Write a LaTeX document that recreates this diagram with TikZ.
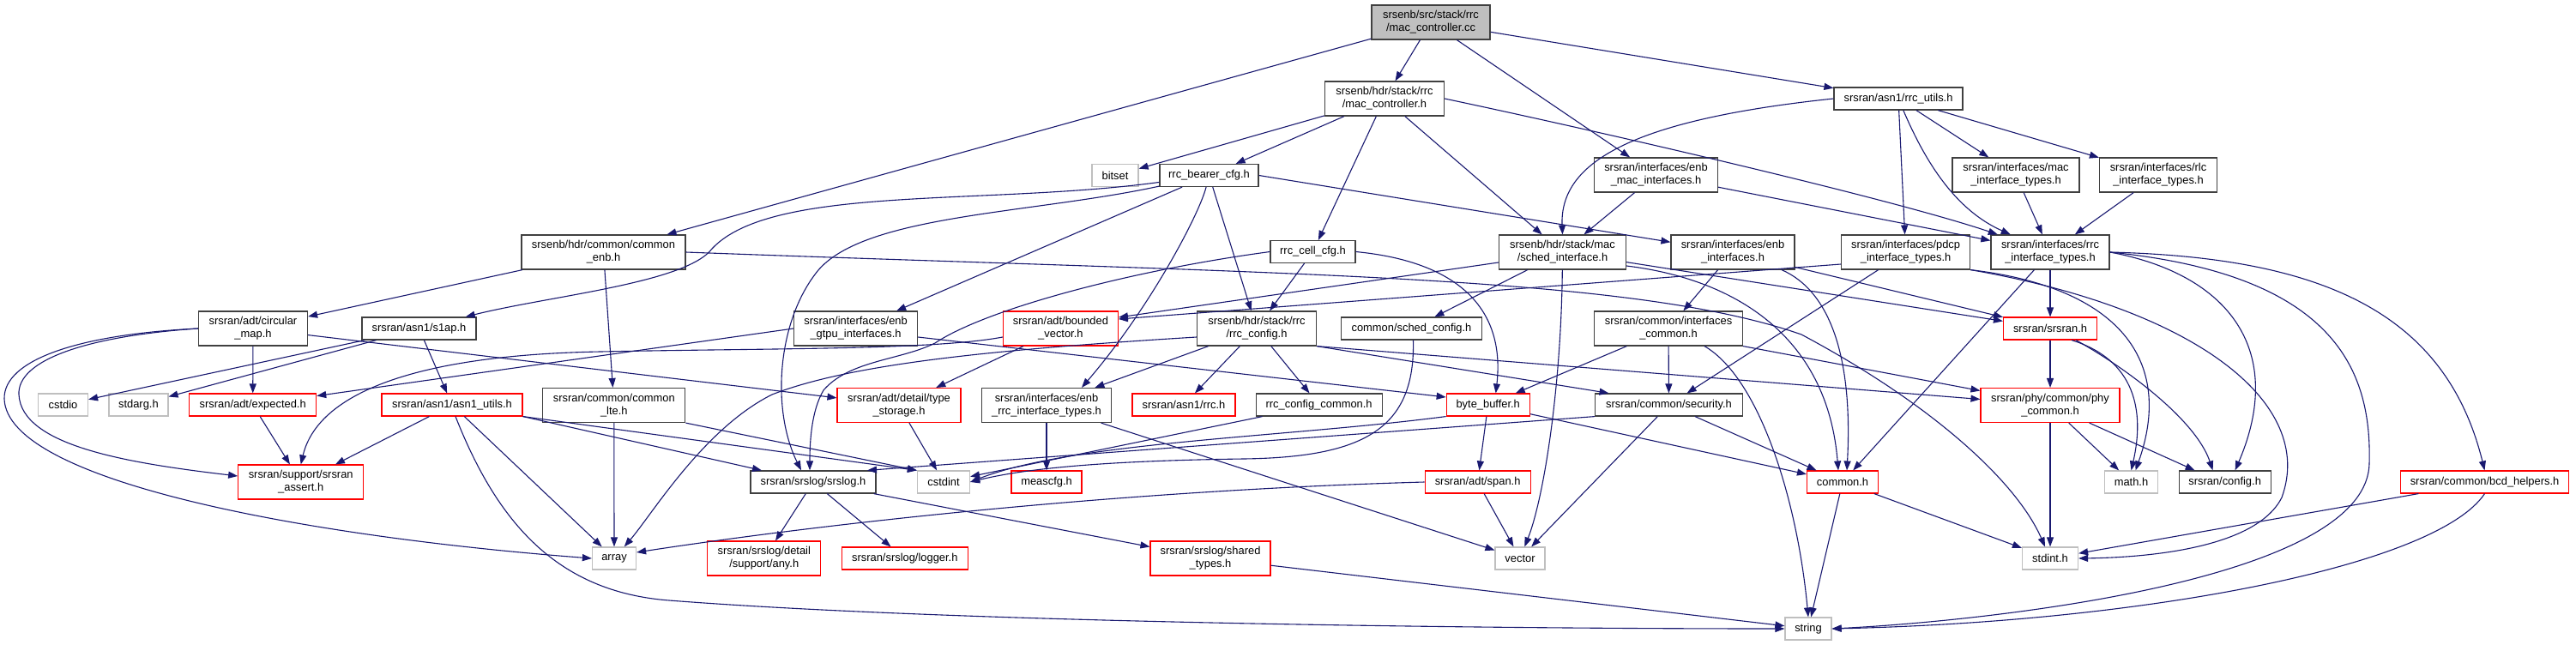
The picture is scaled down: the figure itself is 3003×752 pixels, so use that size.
\documentclass[tikz,border=0pt]{standalone}
\usepackage{fontspec}
\setmainfont{Liberation Sans}
\usetikzlibrary{arrows.meta}
\definecolor{EdgeBlue}{RGB}{25,25,112}
\definecolor{SysGray}{RGB}{191,191,191}
\definecolor{FileEdge}{RGB}{64,64,64}
\definecolor{TruncRed}{RGB}{255,0,0}

\begin{document}
\begin{tikzpicture}[x=1pt, y=-1pt,
  every node/.style={font=\fontsize{12.9pt}{15pt}\selectfont, align=center, inner sep=0pt},
  filenode/.style={draw=FileEdge, line width=1.2pt, fill=white},
  trunode/.style={draw=TruncRed, line width=1.1pt, fill=white},
  sysnode/.style={draw=SysGray, line width=1.2pt, fill=white},
  mainnode/.style={draw=FileEdge, line width=1.2pt, fill=SysGray},
  one/.style={minimum height=26pt},
  two/.style={minimum height=40pt},
  dep/.style={-{Triangle[length=11pt,width=8pt]}, EdgeBlue, line width=1.1pt}]
  \useasboundingbox[fill=white] (0,0) rectangle (3003,752);

  \node[mainnode, two, minimum width=138pt] (cc) at (1668,26) {srsenb/src/stack/rrc\\/mac\_controller.cc};
  \node[filenode, two, minimum width=139pt] (macctrl) at (1614,115) {srsenb/hdr/stack/rrc\\/mac\_controller.h};
  \node[filenode, one, minimum width=150pt] (rrcutils) at (2213,115) {srsran/asn1/rrc\_utils.h};
  \node[sysnode, one, minimum width=54pt] (bitset) at (1300,204.5) {bitset};
  \node[filenode, one, minimum width=115pt] (bearer) at (1409.5,204.5) {rrc\_bearer\_cfg.h};
  \node[filenode, two, minimum width=144pt] (enbmac) at (1930.5,204) {srsran/interfaces/enb\\\_mac\_interfaces.h};
  \node[filenode, two, minimum width=148pt] (macif) at (2350,204) {srsran/interfaces/mac\\\_interface\_types.h};
  \node[filenode, two, minimum width=137pt] (rlcif) at (2516,204) {srsran/interfaces/rlc\\\_interface\_types.h};
  \node[filenode, two, minimum width=191pt] (commonenb) at (703.5,294) {srsenb/hdr/common/common\\\_enb.h};
  \node[filenode, one, minimum width=99pt] (cellcfg) at (1530.5,293.5) {rrc\_cell\_cfg.h};
  \node[filenode, two, minimum width=148pt] (sched) at (1821.5,294) {srsenb/hdr/stack/mac\\/sched\_interface.h};
  \node[filenode, two, minimum width=144pt] (enbif) at (2020,294) {srsran/interfaces/enb\\\_interfaces.h};
  \node[filenode, two, minimum width=150pt] (pdcpif) at (2221.6,294) {srsran/interfaces/pdcp\\\_interface\_types.h};
  \node[filenode, two, minimum width=138pt] (rrcif) at (2390,294) {srsran/interfaces/rrc\\\_interface\_types.h};
  \node[filenode, two, minimum width=127pt] (circmap) at (295,383) {srsran/adt/circular\\\_map.h};
  \node[filenode, one, minimum width=133pt] (s1ap) at (488.5,383) {srsran/asn1/s1ap.h};
  \node[filenode, two, minimum width=144pt] (gtpu) at (997.6,383) {srsran/interfaces/enb\\\_gtpu\_interfaces.h};
  \node[trunode, two, minimum width=134pt] (bvec) at (1236.4,383) {srsran/adt/bounded\\\_vector.h};
  \node[filenode, two, minimum width=139pt] (rrccfg) at (1465,383) {srsenb/hdr/stack/rrc\\/rrc\_config.h};
  \node[filenode, one, minimum width=164pt] (schedcfg) at (1645.5,383) {common/sched\_config.h};
  \node[filenode, two, minimum width=173pt] (ifcommon) at (1945,383) {srsran/common/interfaces\\\_common.h};
  \node[trunode, one, minimum width=109pt] (srsranh) at (2390,383) {srsran/srsran.h};
  \node[sysnode, one, minimum width=58pt] (cstdio) at (73.5,472) {cstdio};
  \node[sysnode, one, minimum width=69pt] (stdarg) at (161.4,472) {stdarg.h};
  \node[trunode, one, minimum width=148pt] (expected) at (294.7,472) {srsran/adt/expected.h};
  \node[trunode, one, minimum width=164pt] (asn1utils) at (527,472) {srsran/asn1/asn1\_utils.h};
  \node[filenode, two, minimum width=166pt] (commonlte) at (715.8,472.5) {srsran/common/common\\\_lte.h};
  \node[trunode, two, minimum width=144pt] (typestor) at (1048,472.5) {srsran/adt/detail/type\\\_storage.h};
  \node[filenode, two, minimum width=151pt] (enbrrc) at (1220,472.5) {srsran/interfaces/enb\\\_rrc\_interface\_types.h};
  \node[trunode, one, minimum width=120pt] (asnrrc) at (1380,472) {srsran/asn1/rrc.h};
  \node[filenode, one, minimum width=147pt] (cfgcommon) at (1537.6,472) {rrc\_config\_common.h};
  \node[trunode, one, minimum width=97pt] (bytebuf) at (1734.7,472) {byte\_buffer.h};
  \node[filenode, one, minimum width=172pt] (security) at (1945.5,472) {srsran/common/security.h};
  \node[trunode, two, minimum width=162pt] (phycommon) at (2390,472.5) {srsran/phy/common/phy\\\_common.h};
  \node[trunode, two, minimum width=146pt] (assert) at (350.7,562) {srsran/support/srsran\\\_assert.h};
  \node[filenode, one, minimum width=146pt] (srslog) at (948,562) {srsran/srslog/srslog.h};
  \node[sysnode, one, minimum width=61pt] (cstdint) at (1100,562) {cstdint};
  \node[trunode, one, minimum width=82pt] (meascfg) at (1220,562) {meascfg.h};
  \node[trunode, one, minimum width=123pt] (span) at (1722.6,562) {srsran/adt/span.h};
  \node[trunode, one, minimum width=83pt] (commonh) at (2148,562) {common.h};
  \node[sysnode, one, minimum width=62pt] (mathh) at (2484.5,562) {math.h};
  \node[filenode, one, minimum width=107pt] (config) at (2593.6,562) {srsran/config.h};
  \node[trunode, one, minimum width=196pt] (bcd) at (2896.5,562) {srsran/common/bcd\_helpers.h};
  \node[sysnode, one, minimum width=51pt] (array) at (716,651) {array};
  \node[trunode, two, minimum width=132pt] (anyh) at (890.8,651) {srsran/srslog/detail\\/support/any.h};
  \node[trunode, one, minimum width=147pt] (logger) at (1054.8,651) {srsran/srslog/logger.h};
  \node[trunode, two, minimum width=140pt] (shared) at (1411,651) {srsran/srslog/shared\\\_types.h};
  \node[sysnode, one, minimum width=58pt] (vector) at (1772,651) {vector};
  \node[sysnode, one, minimum width=65pt] (stdinth) at (2390,651) {stdint.h};
  \node[sysnode, one, minimum width=54pt] (string) at (2108,733) {string};

  \draw[dep] (cc) -- (commonenb);
  \draw[dep] (cc) -- (macctrl);
  \draw[dep] (cc) -- (enbmac);
  \draw[dep] (cc) -- (rrcutils);
  \draw[dep] (macctrl) -- (bitset);
  \draw[dep] (macctrl) -- (bearer);
  \draw[dep] (macctrl) -- (cellcfg);
  \draw[dep] (macctrl) -- (sched);
  \draw[dep] (macctrl.east) .. controls (1850,150) and (2200,230) .. (rrcif);
  \draw[dep] (rrcutils.west) .. controls (1900,140) and (1818,190) .. (sched.north);
  \draw[dep] (rrcutils) -- (pdcpif);
  \draw[dep] (rrcutils) -- (macif);
  \draw[dep] (rrcutils) -- (rlcif);
  \draw[dep] (rrcutils) .. controls (2245,190) and (2280,245) .. (rrcif);
  \draw[dep] (enbmac) -- (sched);
  \draw[dep] (enbmac) -- (rrcif);
  \draw[dep] (macif) -- (rrcif);
  \draw[dep] (rlcif) -- (rrcif);
  \draw[dep] (bearer) .. controls (1150,240) and (900,215) .. (830,290) .. controls (800,330) and (640,345) .. (s1ap);
  \draw[dep] (bearer) .. controls (1200,250) and (1000,250) .. (950,320) .. controls (905,380) and (900,480) .. ([xshift=-14pt]srslog.north);
  \draw[dep] (bearer) -- (gtpu);
  \draw[dep] (bearer) .. controls (1398,250) and (1340,360) .. ([xshift=41pt]enbrrc.north);
  \draw[dep] (bearer) -- (rrccfg);
  \draw[dep] (bearer.east) -- (enbif);
  \draw[dep] (commonenb) -- (circmap);
  \draw[dep] (commonenb) -- (commonlte);
  \draw[dep] (commonenb.east) .. controls (1500,320) and (1900,320) .. (2100,390) .. controls (2250,470) and (2350,560) .. (stdinth);
  \draw[dep] (s1ap) -- (cstdio);
  \draw[dep] (s1ap) -- (stdarg);
  \draw[dep] (s1ap) -- (asn1utils);
  \draw[dep] (circmap) -- (expected);
  \draw[dep] (circmap.west) .. controls (100,392) and (20,420) .. (22,460) .. controls (25,520) and (150,540) .. ([yshift=7pt]assert.west);
  \draw[dep] (circmap.west) .. controls (90,390) and (4,420) .. (5,465) .. controls (8,560) and (350,625) .. (array.west);
  \draw[dep] (circmap) -- (typestor);
  \draw[dep] (gtpu.west) -- (expected);
  \draw[dep] ([yshift=-10pt]gtpu.east) -- ([yshift=9pt]bytebuf.west);
  \draw[dep] ([yshift=-10pt]bvec.west) .. controls (1090,408) and (900,406) .. (700,410) .. controls (480,414) and (370,460) .. (assert.north);
  \draw[dep] (bvec) -- (typestor);
  \draw[dep] ([yshift=-10pt]rrccfg.west) .. controls (1150,408) and (990,425) .. (900,460) .. controls (820,500) and (760,600) .. (array);
  \draw[dep] (rrccfg) -- (enbrrc);
  \draw[dep] (rrccfg) -- (asnrrc);
  \draw[dep] (rrccfg) -- (cfgcommon);
  \draw[dep] (rrccfg.south east) -- ([xshift=-70pt]security.north);
  \draw[dep] (rrccfg.south east) -- ([yshift=7pt]phycommon.west);
  \draw[dep] (cellcfg) -- (rrccfg);
  \draw[dep] (cellcfg.east) .. controls (1700,305) and (1755,360) .. ([xshift=9pt]bytebuf.north);
  \draw[dep] (cellcfg.west) .. controls (1320,315) and (1150,360) .. (1090,400) .. controls (1050,420) and (990,420) .. (960,455) .. controls (945,480) and (944,520) .. ([xshift=-4pt]srslog.north);
  \draw[dep] ([yshift=-12pt]sched.west) -- ([yshift=13pt]bvec.east);
  \draw[dep] (sched) -- (schedcfg);
  \draw[dep] (sched) .. controls (1820,450) and (1800,580) .. (vector);
  \draw[dep] (sched) -- (srsranh);
  \draw[dep] ([yshift=-16pt]sched.east) .. controls (2020,325) and (2130,390) .. ([xshift=-5pt]commonh.north);
  \draw[dep] ([yshift=-14pt]pdcpif.west) -- ([yshift=11pt]bvec.east);
  \draw[dep] (pdcpif) -- (security);
  \draw[dep] (pdcpif.south east) .. controls (2470,335) and (2535,420) .. ([xshift=5pt]mathh.north);
  \draw[dep] (pdcpif.south east) .. controls (2560,360) and (2700,470) .. (2660,580) .. controls (2630,640) and (2500,650) .. (stdinth.east);
  \draw[dep] (enbif) -- (ifcommon);
  \draw[dep] ([xshift=57pt]enbif.south) .. controls (2135,340) and (2160,420) .. ([xshift=5pt]commonh.north);
  \draw[dep] (enbif) -- (srsranh);
  \draw[dep] (rrcif) -- (commonh);
  \draw[dep] (rrcif) -- (srsranh);
  \draw[dep] (rrcif.east) .. controls (2600,320) and (2665,410) .. ([xshift=12pt]config.north);
  \draw[dep] (rrcif.east) .. controls (2720,320) and (2765,430) .. (2762,540) .. controls (2760,680) and (2300,725) .. (string.east);
  \draw[dep] (rrcif.east) .. controls (2700,300) and (2850,360) .. (bcd.north);
  \draw[dep] (ifcommon) -- (bytebuf);
  \draw[dep] (ifcommon) -- (security);
  \draw[dep] ([xshift=42pt]ifcommon.south) .. controls (2050,440) and (2095,580) .. (string.north);
  \draw[dep] (ifcommon.south east) -- ([yshift=17pt]phycommon.west);
  \draw[dep] (srsranh) -- (phycommon);
  \draw[dep] ([xshift=25pt]srsranh.south) .. controls (2490,420) and (2500,480) .. (mathh.north);
  \draw[dep] ([xshift=30pt]srsranh.south) .. controls (2480,430) and (2560,490) .. ([xshift=-14pt]config.north);
  \draw[dep] (phycommon) -- (stdinth);
  \draw[dep] (phycommon) -- (mathh);
  \draw[dep] (phycommon) -- ([xshift=-35pt]config.north);
  \draw[dep] (expected) -- (assert);
  \draw[dep] (asn1utils) -- (assert);
  \draw[dep] (asn1utils) -- (array);
  \draw[dep] ([xshift=4pt]asn1utils.south) .. controls (580,610) and (650,690) .. (780,700) .. controls (1100,725) and (1700,733) .. (string.west);
  \draw[dep] (asn1utils.south east) -- ([xshift=-60pt]srslog.north);
  \draw[dep] (asn1utils.south east) -- (cstdint.north west);
  \draw[dep] (commonlte) -- (array);
  \draw[dep] (commonlte.south east) -- (cstdint.north west);
  \draw[dep] (typestor) -- (cstdint);
  \draw[dep] (enbrrc) -- (meascfg);
  \draw[dep] (enbrrc) -- (vector);
  \draw[dep] (cfgcommon) -- (cstdint);
  \draw[dep] (bytebuf) -- (span);
  \draw[dep] (bytebuf) -- (commonh);
  \draw[dep] (bytebuf.south west) .. controls (1500,510) and (1250,515) .. (cstdint.east);
  \draw[dep] (security.south west) -- ([xshift=63pt]srslog.north);
  \draw[dep] (security) -- (vector);
  \draw[dep] (security) -- (commonh);
  \draw[dep] ([xshift=2pt]schedcfg.south) .. controls (1650,500) and (1590,533) .. (1450,535) .. controls (1300,537) and (1200,545) .. (cstdint.east);
  \draw[dep] (srslog) -- (anyh);
  \draw[dep] (srslog) -- (logger);
  \draw[dep] (srslog) -- (shared);
  \draw[dep] (span) -- (vector);
  \draw[dep] (span.west) .. controls (1300,572) and (950,612) .. ([yshift=7pt]array.east);
  \draw[dep] (commonh) -- (string);
  \draw[dep] (commonh) -- (stdinth);
  \draw[dep] (bcd) -- (stdinth);
  \draw[dep] (bcd.south) .. controls (2840,660) and (2500,725) .. (string.east);
  \draw[dep] (shared) -- (string);
\end{tikzpicture}
\end{document}
